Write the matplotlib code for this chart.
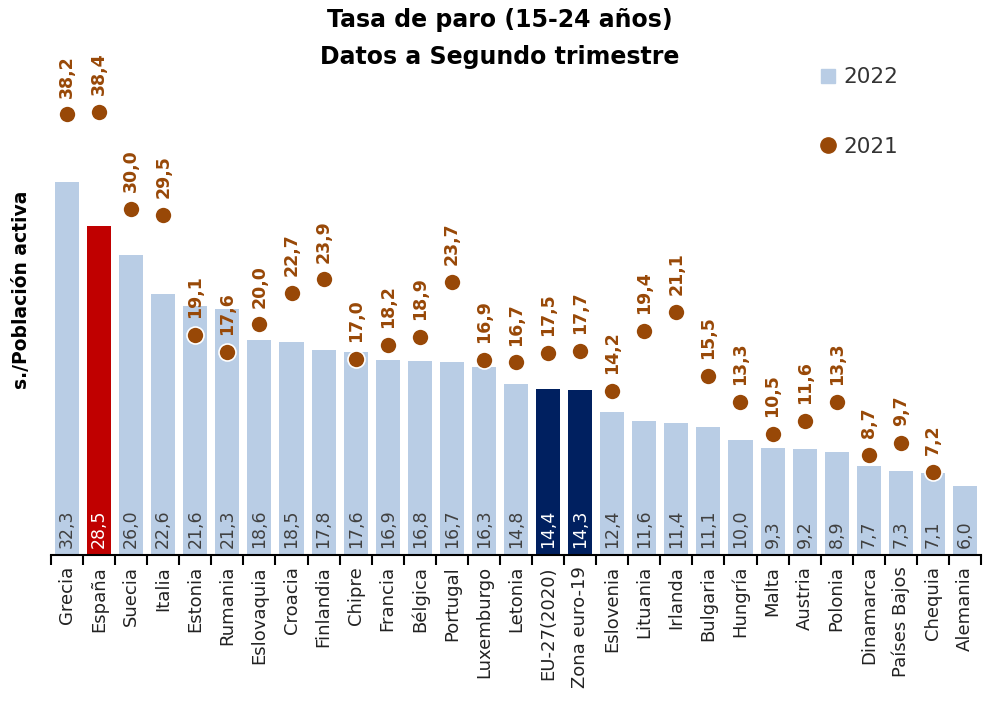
import numpy as np
import matplotlib
matplotlib.use("Agg")
import matplotlib.pyplot as plt
from matplotlib.lines import Line2D

# data
paises = ["Grecia", "España", "Suecia", "Italia", "Estonia", "Rumania", "Eslovaquia",
          "Croacia", "Finlandia", "Chipre", "Francia", "Bélgica", "Portugal", "Luxemburgo",
          "Letonia", "EU-27(2020)", "Zona euro-19", "Eslovenia", "Lituania", "Irlanda",
          "Bulgaria", "Hungría", "Malta", "Austria", "Polonia", "Dinamarca", "Países Bajos",
          "Chequia", "Alemania"]
v2022 = [32.3, 28.5, 26.0, 22.6, 21.6, 21.3, 18.6, 18.5, 17.8, 17.6, 16.9, 16.8, 16.7, 16.3,
         14.8, 14.4, 14.3, 12.4, 11.6, 11.4, 11.1, 10.0, 9.3, 9.2, 8.9, 7.7, 7.3, 7.1, 6.0]
v2021 = [38.2, 38.4, 30.0, 29.5, 19.1, 17.6, 20.0, 22.7, 23.9, 17.0, 18.2, 18.9, 23.7, 16.9,
         16.7, 17.5, 17.7, 14.2, 19.4, 21.1, 15.5, 13.3, 10.5, 11.6, 13.3, 8.7, 9.7, 7.2, None]

azul = "#B9CDE5"
rojo = "#C00000"
marino = "#002060"
marron = "#984807"

def fmt(v):
    return f"{v:.1f}".replace(".", ",")

colores = []
for p in paises:
    if p == "España":
        colores.append(rojo)
    elif p in ("EU-27(2020)", "Zona euro-19"):
        colores.append(marino)
    else:
        colores.append(azul)

fig = plt.figure(figsize=(9.83, 7.06), dpi=100)
ax = fig.add_axes([51/983, 151/706, 930/983, 525/706])
x = np.arange(len(paises))
ax.bar(x, v2022, width=0.75, color=colores, zorder=2)
ax.set_xlim(-0.5, len(paises) - 0.5)
ax.set_ylim(0, 45.5)

# bar labels inside, near the base
for xi, v, c in zip(x, v2022, colores):
    tc = "white" if c != azul else "#404040"
    ax.text(xi, 0.6, fmt(v), rotation=90, ha="center", va="bottom", fontsize=12.5, color=tc, zorder=3)

# 2021 dots
xd = [xi for xi, v in zip(x, v2021) if v is not None]
yd = [v for v in v2021 if v is not None]
ax.scatter(xd, yd, s=150, color=marron, edgecolor="white", linewidth=1.2, zorder=4)
for xi, v in zip(xd, yd):
    ax.annotate(fmt(v), (xi, v), xytext=(0, 12), textcoords="offset points", rotation=90,
                ha="center", va="bottom", fontsize=12.5, fontweight="bold", color=marron)

# axes styling
for s in ["top", "right", "left"]:
    ax.spines[s].set_visible(False)
ax.spines["bottom"].set_linewidth(1.5)
ax.set_yticks([])
ax.set_xticks(np.arange(-0.5, len(paises), 1.0))
ax.set_xticklabels([])
ax.tick_params(axis="x", length=7, width=1.5, direction="out")
ax.set_xticks(x, minor=True)
ax.set_xticklabels(paises, minor=True, rotation=90, fontsize=13, color="#222222")
ax.tick_params(axis="x", which="minor", length=0, pad=8)

fig.text(500/983, 1 - 20/706, "Tasa de paro (15-24 años)", ha="center", va="center",
         fontsize=17, fontweight="bold")
fig.text(500/983, 1 - 57/706, "Datos a Segundo trimestre", ha="center", va="center",
         fontsize=17, fontweight="bold")
fig.text(22/983, 1 - 290/706, "s./Población activa", rotation=90, ha="center", va="center",
         fontsize=13.5, fontweight="bold")

handles = [Line2D([], [], marker="s", linestyle="none", color=azul, markersize=10),
           Line2D([], [], marker="o", linestyle="none", color=marron, markersize=11)]
fig.legend(handles, ["2022", "2021"], loc="upper left", bbox_to_anchor=(800/983, 1 - 48/706),
           frameon=False, fontsize=15.5, handlelength=0.8, handletextpad=0.3, labelspacing=2.3,
           labelcolor="#333333")

fig.savefig("out.png", dpi=100)
